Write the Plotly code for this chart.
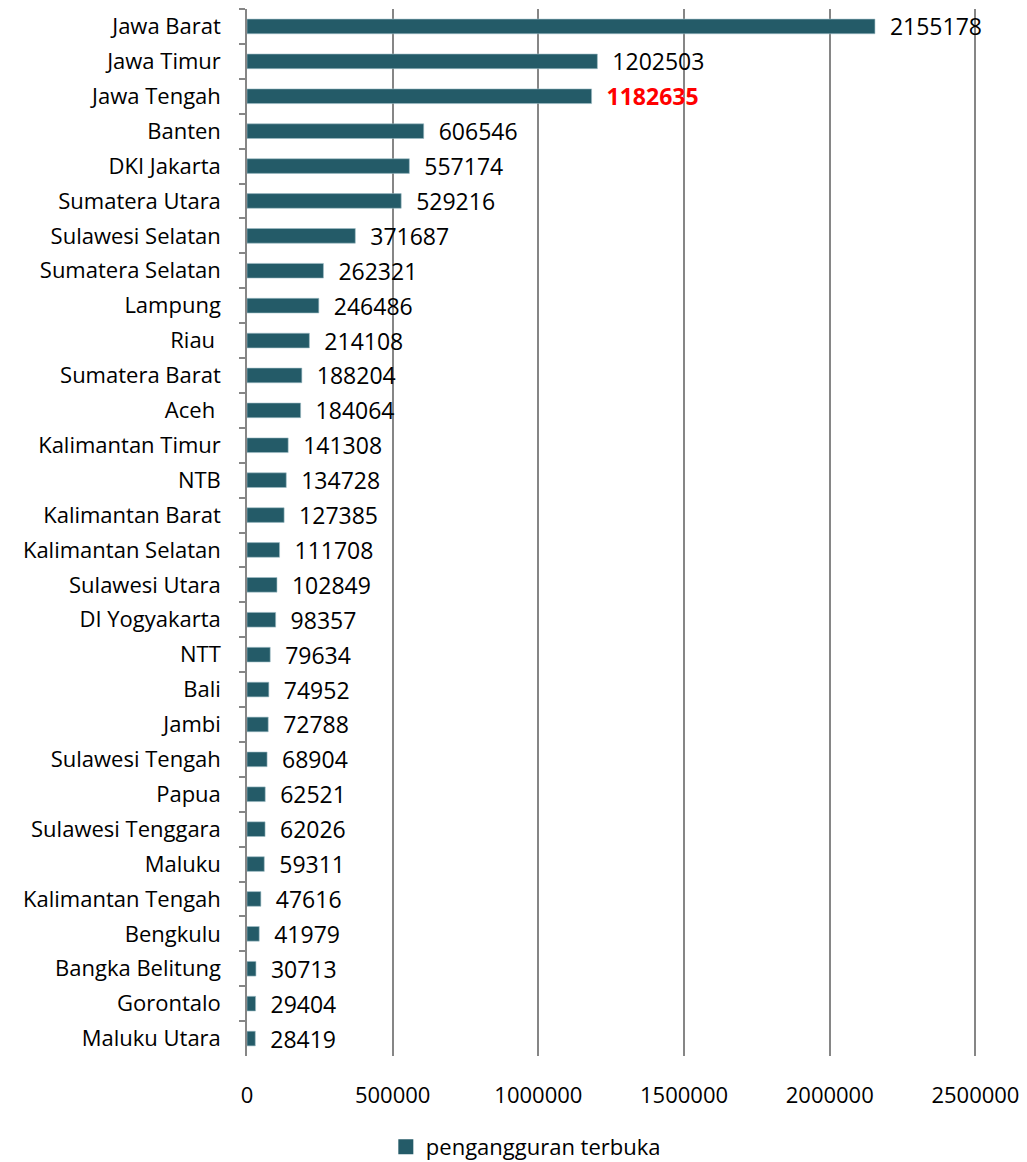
import plotly.graph_objects as go

provinces = ["Jawa Barat", "Jawa Timur", "Jawa Tengah", "Banten", "DKI Jakarta", "Sumatera Utara",
             "Sulawesi Selatan", "Sumatera Selatan", "Lampung", "Riau ", "Sumatera Barat", "Aceh ",
             "Kalimantan Timur", "NTB", "Kalimantan Barat", "Kalimantan Selatan", "Sulawesi Utara",
             "DI Yogyakarta", "NTT", "Bali", "Jambi", "Sulawesi Tengah", "Papua", "Sulawesi Tenggara",
             "Maluku", "Kalimantan Tengah", "Bengkulu", "Bangka Belitung", "Gorontalo", "Maluku Utara"]
values = [2155178, 1202503, 1182635, 606546, 557174, 529216, 371687, 262321, 246486, 214108,
          188204, 184064, 141308, 134728, 127385, 111708, 102849, 98357, 79634, 74952, 72788,
          68904, 62521, 62026, 59311, 47616, 41979, 30713, 29404, 28419]
highlight = "Jawa Tengah"
series_name = "pengangguran terbuka"
x_ticks = [0, 500000, 1000000, 1500000, 2000000, 2500000]

FONT = "Open Sans"
FS = 22
bar_color = "#245B68"
texts = [f"  <b>{v}</b>" if p == highlight else f"  {v}" for p, v in zip(provinces, values)]
text_colors = ["#FF0000" if p == highlight else "#000000" for p in provinces]

fig = go.Figure(go.Bar(
    y=provinces, x=values, orientation="h", name=series_name,
    marker=dict(color=bar_color, line=dict(width=0.6, color="#9FBEC6")),
    text=texts, textposition="outside", cliponaxis=False, constraintext="none",
    textfont=dict(color=text_colors, size=23, family=FONT),
    showlegend=False,
))
# legend entry with a larger square swatch
fig.add_trace(go.Scatter(
    x=[None], y=[None], mode="markers", name=series_name,
    marker=dict(symbol="square", size=15, color=bar_color), showlegend=True,
))

fig.update_layout(
    width=1027, height=1162,
    margin=dict(l=247, r=37, t=9, b=106),
    paper_bgcolor="white", plot_bgcolor="white",
    font=dict(family=FONT, size=FS, color="#000000"),
    bargap=0.58,
    xaxis=dict(range=[0, 2550000], tickvals=x_ticks, ticktext=[str(t) for t in x_ticks],
               showgrid=True, gridcolor="#868686", gridwidth=1.5, zeroline=False,
               showline=False, ticks="", ticklabelstandoff=24),
    yaxis=dict(autorange="reversed", type="category", categoryorder="array",
               categoryarray=provinces, showline=True, linecolor="#868686",
               linewidth=1.5, ticks="outside", tickson="boundaries", ticklen=6,
               tickcolor="#868686", tickwidth=1.5, ticklabelstandoff=20, showgrid=False),
    legend=dict(orientation="h", xref="container", x=0.512, xanchor="center",
                yref="container", y=0.013, yanchor="middle",
                font=dict(size=FS), itemwidth=30),
)

fig.write_html("out.html", post_script="document.body.style.margin='0px';",
               config={"displayModeBar": False})
